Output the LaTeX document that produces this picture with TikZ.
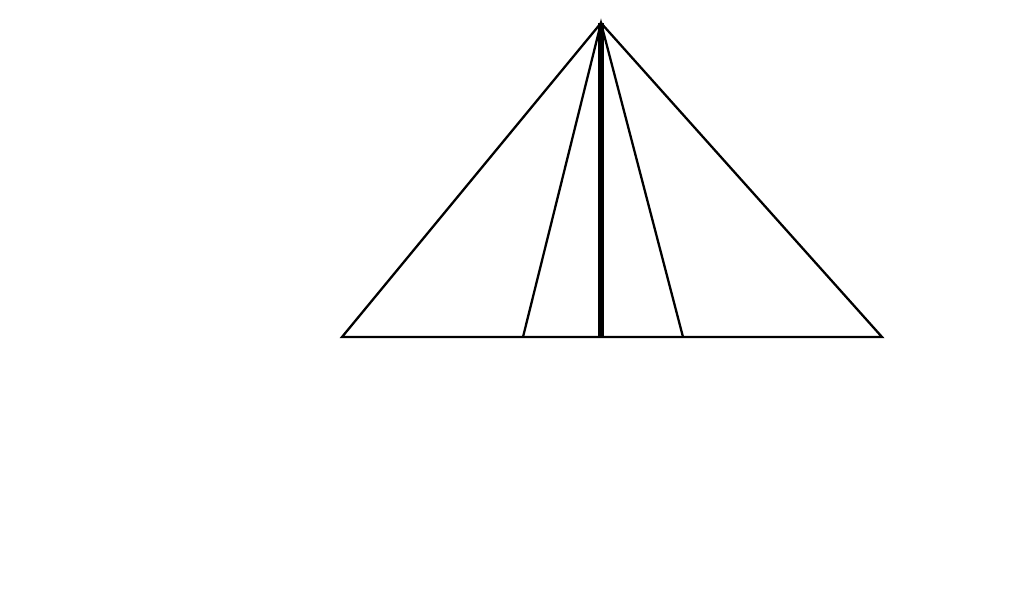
\documentclass[tikz,border=0pt]{standalone}
\usepackage{tikz}

\begin{document}
\begin{tikzpicture}[x=0.02cm,y=-0.02cm]
\useasboundingbox (0,0) rectangle (1024,599);
\coordinate (A) at (601,23);
\coordinate (B) at (342,337);
\coordinate (C) at (882,337);
\coordinate (D) at (523,337);
\coordinate (E) at (683,337);
\coordinate (H) at (601,337);
\draw[line width=1.3pt] (B) -- (A) -- (C) -- cycle;
\draw[line width=1.3pt] (D) -- (A) -- (E);
\draw[line width=1.6pt] (D) -- (E);
\draw[line width=3pt] (A) -- (H);
\end{tikzpicture}
\end{document}
